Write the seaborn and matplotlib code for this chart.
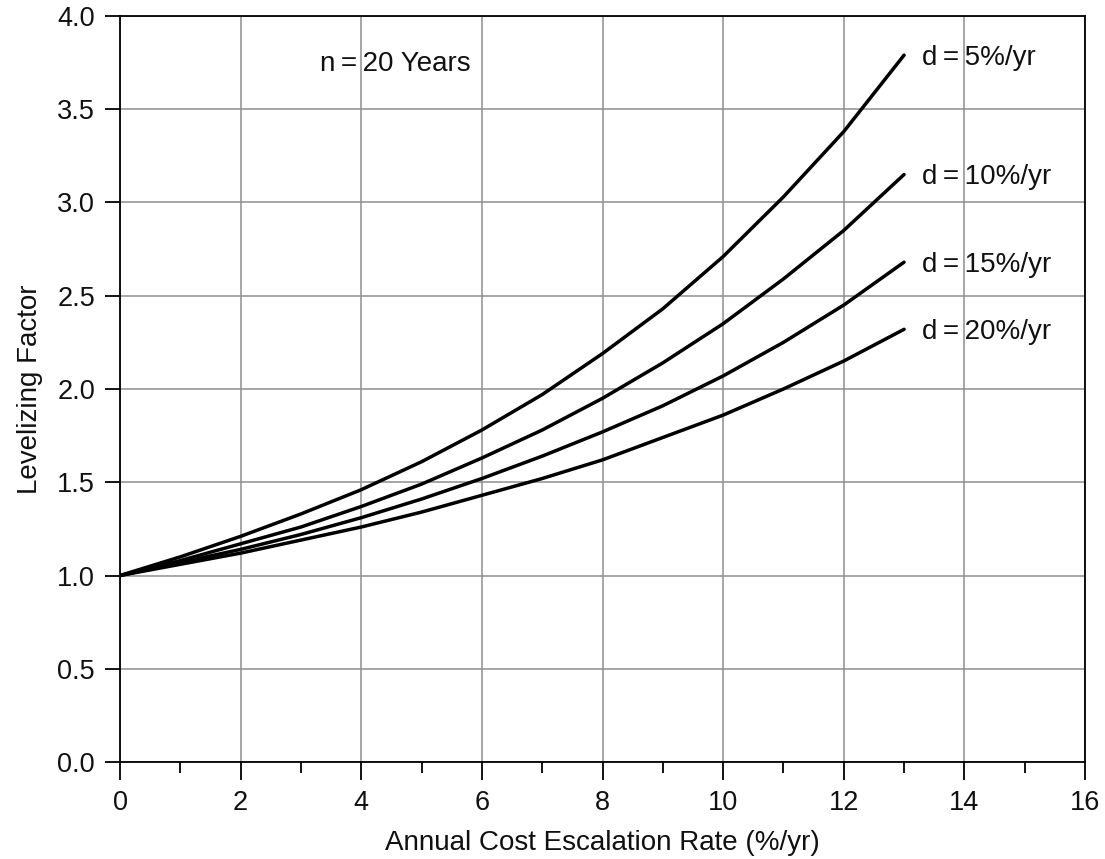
import matplotlib
matplotlib.use("Agg")
import matplotlib.pyplot as plt
from matplotlib.ticker import MultipleLocator
import seaborn as sns
import pandas as pd

escalation = [0, 1, 2, 3, 4, 5, 6, 7, 8, 9, 10, 11, 12, 13]
lf_d5 = [1.00, 1.10, 1.21, 1.33, 1.46, 1.61, 1.78, 1.97, 2.19, 2.43, 2.71, 3.03, 3.38, 3.79]
lf_d10 = [1.00, 1.08, 1.17, 1.26, 1.37, 1.49, 1.63, 1.78, 1.95, 2.14, 2.35, 2.59, 2.85, 3.15]
lf_d15 = [1.00, 1.07, 1.14, 1.22, 1.31, 1.41, 1.52, 1.64, 1.77, 1.91, 2.07, 2.25, 2.45, 2.68]
lf_d20 = [1.00, 1.06, 1.12, 1.19, 1.26, 1.34, 1.43, 1.52, 1.62, 1.74, 1.86, 2.00, 2.15, 2.32]
series_labels = ["d\u2009=\u20095%/yr", "d\u2009=\u200910%/yr", "d\u2009=\u200915%/yr", "d\u2009=\u200920%/yr"]
annotation = "n\u2009=\u200920 Years"
xlabel = "Annual Cost Escalation Rate (%/yr)"
ylabel = "Levelizing Factor"

rows = []
for lab, vals in zip(series_labels, [lf_d5, lf_d10, lf_d15, lf_d20]):
    for x, v in zip(escalation, vals):
        rows.append({"e": x, "lf": v, "series": lab})
df = pd.DataFrame(rows)

sns.set_theme(style="white")
plt.rcParams["font.family"] = ["Liberation Sans", "DejaVu Sans"]

fig = plt.figure(figsize=(11.05, 8.59), dpi=100)
ax = fig.add_axes([0.1086, 0.1129, 0.8733, 0.8685])

sns.lineplot(data=df, x="e", y="lf", hue="series", palette=["black"] * 4,
             linewidth=2.5, legend=False, ax=ax, sort=False)

ax.set_xlim(0, 16)
ax.set_ylim(0, 4)
ax.xaxis.set_major_locator(MultipleLocator(2))
ax.xaxis.set_minor_locator(MultipleLocator(1))
ax.set_yticks([0, 0.5, 1, 1.5, 2, 2.5, 3, 3.5, 4])
ax.set_yticklabels(["0.0", "0.5", "1.0", "1.5", "2.0", "2.5", "3.0", "3.5", "4.0"])

ax.grid(True, which="major", color="#8e8e8e", linewidth=1.1)
ax.set_axisbelow(True)
for s in ax.spines.values():
    s.set_color("black")
    s.set_linewidth(1.3)

ax.tick_params(axis="x", which="major", direction="out", length=13, width=1.3,
               color="black", labelsize=19.5, pad=7, bottom=True, labelcolor="#111111")
ax.tick_params(axis="x", which="minor", direction="out", length=8, width=1.3,
               color="black", bottom=True)
ax.tick_params(axis="y", which="major", direction="out", length=11, width=1.3,
               color="black", labelsize=19.5, pad=7, left=True, labelcolor="#111111")

ax.set_xlabel(xlabel, fontsize=20, labelpad=10, color="#111111")
ax.set_ylabel(ylabel, fontsize=20, labelpad=10, color="#111111")

ends = [lf_d5[-1], lf_d10[-1], lf_d15[-1], lf_d20[-1]]
for lab, yv in zip(series_labels, ends):
    ax.text(13.3, yv - 0.015, lab, fontsize=20, va="center", ha="left", color="#111111")
ax.text(3.32, 3.74, annotation, fontsize=20, va="center", ha="left", color="#111111")

fig.savefig("out.png", dpi=100)
